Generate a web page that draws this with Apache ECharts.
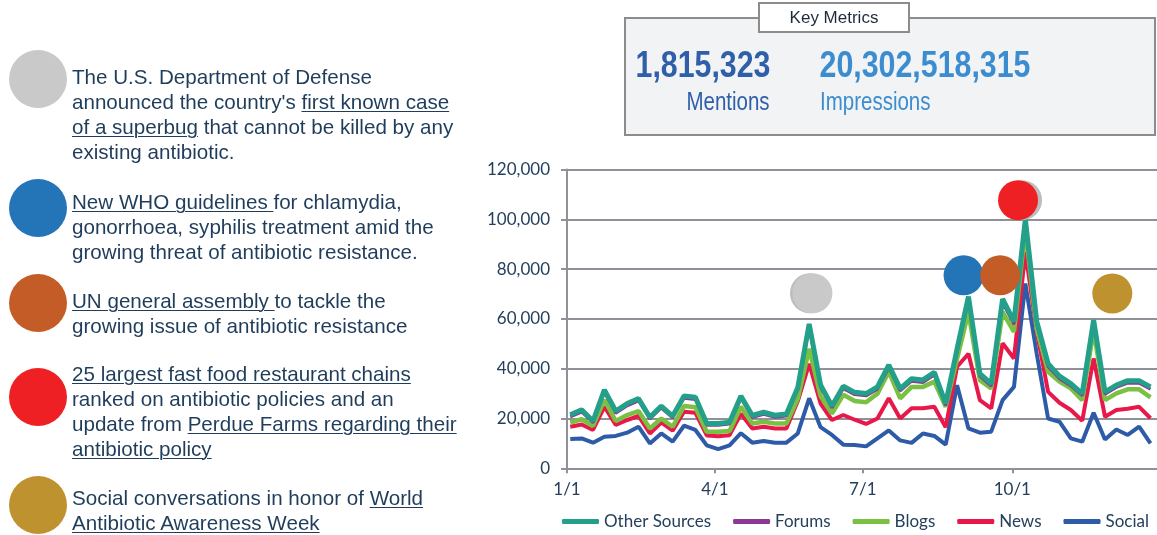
<!DOCTYPE html>
<html>
<head>
<meta charset="utf-8">
<script src="https://cdn.jsdelivr.net/npm/echarts@6.0.0/dist/echarts.min.js"></script>
<style>
  body { margin: 0; background: #fff; }
  #wrap { position: relative; width: 1157px; height: 535px; overflow: hidden; }
  #chart { position: absolute; left: 0; top: 0; width: 1157px; height: 535px; }
  .note {
    position: absolute; left: 72px;
    font-family: 'Liberation Sans', Arial, sans-serif; font-size: 20.6px; line-height: 25px;
    color: #1f3d5b; white-space: nowrap;
  }
  .note u { text-underline-offset: 2px; text-decoration-thickness: 1px; }
</style>
</head>
<body>
<div id="wrap">
  <div id="chart"></div>
  <div class="note" style="top:64px">The U.S. Department of Defense<br>announced the country's <u>first known case</u><br><u>of a superbug</u> that cannot be killed by any<br>existing antibiotic.</div>
  <div class="note" style="top:189px"><u>New WHO guidelines </u>for chlamydia,<br>gonorrhoea, syphilis treatment amid the<br>growing threat of antibiotic resistance.</div>
  <div class="note" style="top:288px"><u>UN general assembly </u>to tackle the<br>growing issue of antibiotic resistance</div>
  <div class="note" style="top:361px"><u>25 largest fast food restaurant chains</u><br>ranked on antibiotic policies and an<br>update from <u>Perdue Farms regarding their</u><br><u>antibiotic policy</u></div>
  <div class="note" style="top:485px">Social conversations in honor of <u>World</u><br><u>Antibiotic Awareness Week</u></div>
</div>
<script>
// weekly buckets (2016), mentions per source
const weekDates = ['1/3', '1/10', '1/17', '1/24', '1/31', '2/7', '2/14', '2/21', '2/28',
  '3/6', '3/13', '3/20', '3/27', '4/3', '4/10', '4/17', '4/24', '5/1', '5/8', '5/15', '5/22', '5/29',
  '6/5', '6/12', '6/19', '6/26', '7/3', '7/10', '7/17', '7/24', '7/31', '8/7', '8/14', '8/21', '8/28',
  '9/4', '9/11', '9/18', '9/25', '10/2', '10/9', '10/16', '10/23', '10/30', '11/6', '11/13', '11/20',
  '11/27', '12/4', '12/11', '12/18', '12/25']
const axisDates = ['1/1', '4/1', '7/1', '10/1']

const otherSources = [21500, 23500, 19000, 31500, 23000, 26000, 28000, 20500, 25000, 21000, 29000, 28500, 18000,
  18000, 18500, 29000, 21200, 22500, 21300, 21800, 32500, 58000, 33500, 25000, 33000, 30500,
  30000, 32700, 41500, 32000, 36000, 35500, 38500, 26000, 48000, 69000, 38000, 34000, 68000,
  59000, 100000, 59000, 42000, 37000, 34000, 30000, 59500, 30700, 33400, 35200, 35200, 32700]
const forums = [20700, 22600, 18300, 30500, 22100, 25100, 27100, 19800, 24200, 20300, 28100, 27600, 17300,
  17300, 17800, 28100, 20400, 21700, 20500, 21000, 31600, 56500, 32500, 24200, 32000, 29600,
  29100, 31800, 40400, 31100, 35000, 34500, 37500, 25200, 46500, 67500, 37000, 33000, 66500,
  57800, 98500, 57800, 40800, 36000, 33100, 29200, 58000, 29800, 32500, 34200, 34200, 31800]
const blogs = [18400, 19700, 17000, 27500, 19000, 21400, 23000, 16000, 20000, 16700, 25000, 24500, 14700,
  14700, 15000, 24700, 18000, 18700, 18000, 18000, 28000, 48000, 29000, 22000, 29500, 27000,
  26500, 30000, 38800, 28100, 32700, 32700, 34800, 24700, 44000, 62800, 35400, 32100, 62800,
  54800, 96000, 56000, 38800, 34800, 32100, 27400, 55500, 27400, 30100, 31700, 31700, 28500]
const news = [16700, 17600, 15400, 24700, 17400, 19400, 21000, 14000, 18400, 15100, 22700, 22300, 13200,
  12900, 13300, 21900, 16000, 16700, 16000, 16000, 27000, 42000, 26000, 19400, 21400, 19500,
  17800, 20000, 28100, 20000, 24100, 24100, 24700, 16500, 40800, 46000, 27400, 24100, 50200,
  44100, 87000, 55000, 30700, 26300, 23400, 19100, 44100, 20700, 23400, 23900, 24700, 20100]
const social = [11800, 12000, 10300, 12700, 13000, 14300, 16700, 10000, 14000, 10700, 17100, 15400, 9200,
  7700, 9200, 14100, 10300, 11000, 10300, 10300, 14000, 28100, 16500, 13400, 9500, 9400,
  8800, 12000, 15200, 11200, 10200, 14000, 13000, 9500, 33400, 16000, 14300, 14700, 27400,
  32700, 74200, 46000, 20000, 18700, 12000, 10700, 22300, 11600, 15600, 13400, 16700, 10000]

// event markers (day of year, height on value axis)
const eventNames = ['Superbug case', 'WHO guidelines', 'UN general assembly', 'Fast food ranking', 'Awareness Week']
const eventDays = [151, 244, 266.5, 277.5, 335.5]
const eventValues = [70300, 77500, 77500, 107700, 70200]
const eventColors = ['#c9c9c9', '#2474b8', '#c45c28', '#ee2024', '#bf9230']
// grey copies peeking out behind two of the markers
const echoDays = [149.5, 280]
const echoValues = [70300, 107700]

function dayOf(md) {
  const [m, d] = md.split('/').map(Number)
  return (Date.UTC(2016, m - 1, d) - Date.UTC(2016, 0, 1)) / 86400000
}
const weekDays = weekDates.map(dayOf)
const axisDays = axisDates.map(dayOf)

const lineSeries = [
  { name: 'Other Sources', values: otherSources, color: '#23a08a', width: 5, z: 6 },
  { name: 'Forums', values: forums, color: '#8b3a94', width: 3, z: 5 },
  { name: 'Blogs', values: blogs, color: '#7ac143', width: 4.5, z: 4 },
  { name: 'News', values: news, color: '#e8194a', width: 4, z: 3 },
  { name: 'Social', values: social, color: '#2d5ba8', width: 4, z: 2 },
]

const gridColor = '#8e9198'
const labelColor = '#24405c'

const series = lineSeries.map(s => ({
  name: s.name,
  type: 'line',
  data: s.values.map((v, i) => [weekDays[i], v]),
  showSymbol: false,
  symbol: 'none',
  color: s.color,
  lineStyle: { width: s.width, color: s.color },
  z: s.z,
}))
series.push({
  name: 'echo',
  type: 'scatter',
  symbolSize: 40,
  z: 9,
  itemStyle: { color: '#bdbdbd', opacity: 1 },
  data: echoDays.map((d, i) => [d, echoValues[i]]),
})
series.push({
  name: 'events',
  type: 'scatter',
  symbolSize: 40,
  z: 10,
  data: eventNames.map((n, i) => ({
    name: n,
    value: [eventDays[i], eventValues[i]],
    itemStyle: { color: eventColors[i], opacity: 1 },
  })),
})

// coloured dots for the notes on the left
const noteDots = [79, 208, 303, 397, 505].map((cy, i) => ({
  type: 'circle',
  shape: { cx: 38, cy: cy, r: 29 },
  style: { fill: eventColors[i] },
}))

const metrics = [
  { type: 'rect', shape: { x: 625, y: 18, width: 530, height: 117 }, style: { fill: '#f2f3f4', stroke: '#8c8c8c', lineWidth: 2 } },
  { type: 'rect', shape: { x: 759, y: 3, width: 150, height: 29 }, style: { fill: '#fff', stroke: '#8c8c8c', lineWidth: 2 } },
  { type: 'text', x: 834, y: 18, style: { text: 'Key Metrics', fontSize: 17, fontFamily: 'Liberation Sans', fill: '#1c2b3b', align: 'center', verticalAlign: 'middle' } },
  { type: 'text', x: 703, y: 67, scaleX: 0.82, style: { text: '1,815,323', fontSize: 37, fontWeight: 'bold', fontFamily: 'Liberation Sans', fill: '#2f5fa9', align: 'center', verticalAlign: 'middle' } },
  { type: 'text', x: 728, y: 103, scaleX: 0.82, style: { text: 'Mentions', fontSize: 25, fontFamily: 'Liberation Sans', fill: '#2f5fa9', align: 'center', verticalAlign: 'middle' } },
  { type: 'text', x: 925, y: 67, scaleX: 0.82, style: { text: '20,302,518,315', fontSize: 37, fontWeight: 'bold', fontFamily: 'Liberation Sans', fill: '#3b8dd0', align: 'center', verticalAlign: 'middle' } },
  { type: 'text', x: 820, y: 103, scaleX: 0.82, style: { text: 'Impressions', fontSize: 25, fontFamily: 'Liberation Sans', fill: '#3b8dd0', align: 'left', verticalAlign: 'middle' } },
]

const option = {
  animation: false,
  backgroundColor: '#fff',
  grid: { left: 567, right: 0, top: 169.5, bottom: 66.7 },
  xAxis: {
    type: 'value',
    min: 0,
    max: 363,
    splitLine: { show: false },
    axisLine: { lineStyle: { color: gridColor, width: 2 } },
    axisTick: { show: true, length: 5, customValues: axisDays, lineStyle: { color: gridColor, width: 2 } },
    axisLabel: {
      customValues: axisDays,
      formatter: v => axisDates[axisDays.indexOf(v)] || '',
      color: labelColor, fontFamily: 'Lato', fontSize: 17, margin: 13,
    },
  },
  yAxis: {
    type: 'value',
    min: 0,
    max: 120000,
    interval: 20000,
    axisLine: { show: true, lineStyle: { color: gridColor, width: 2 } },
    axisTick: { show: true, length: 6, lineStyle: { color: gridColor, width: 2 } },
    splitLine: { lineStyle: { color: gridColor, width: 2 } },
    axisLabel: {
      formatter: v => v.toLocaleString('en-US'),
      color: labelColor, fontFamily: 'Lato', fontSize: 17, margin: 17,
    },
  },
  legend: {
    data: lineSeries.map(s => s.name),
    left: 562,
    top: 513,
    width: 600,
    padding: 0,
    icon: 'roundRect',
    itemWidth: 37,
    itemHeight: 5,
    itemGap: 22,
    textStyle: { color: labelColor, fontFamily: 'Lato', fontSize: 17 },
  },
  graphic: noteDots.concat(metrics),
  series: series,
}

const myChart = echarts.init(document.getElementById('chart'))
myChart.setOption(option)
</script>
</body>
</html>
